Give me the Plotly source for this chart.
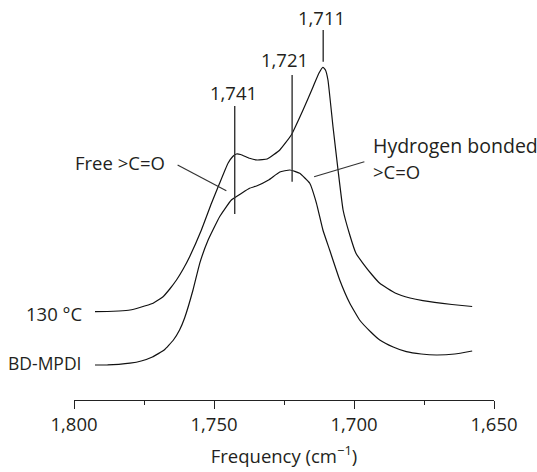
import plotly.graph_objects as go

# Frequencies (cm^-1) and intensities (arbitrary units)
freq_130 = [1792.5, 1788, 1784, 1780, 1776.5, 1772, 1768.2, 1765.8, 1763.4, 1761, 1758.7, 1754.5,
            1750.9, 1748.0, 1745.0, 1743.3, 1742.0, 1740.5, 1737.3, 1734.5, 1731, 1726.5, 1722.4,
            1718.2, 1714.6, 1712.5, 1711.1, 1710.2, 1709.3, 1707.5, 1705.7, 1703.9, 1701.5,
            1699.3, 1696.8, 1693.5, 1690.8, 1685.1, 1680, 1675.4, 1665, 1657.8]
int_130 = [0.883, 0.885, 0.89, 0.90, 0.925, 0.965, 1.033, 1.11, 1.20, 1.31, 1.433, 1.70,
           1.967, 2.167, 2.367, 2.435, 2.46, 2.455, 2.417, 2.40, 2.41, 2.50, 2.65,
           2.90, 3.133, 3.27, 3.327, 3.30, 3.20, 2.733, 2.30, 1.90, 1.65,
           1.467, 1.367, 1.25, 1.167, 1.067, 1.02, 0.993, 0.955, 0.935]

freq_bd = [1792.5, 1788, 1784, 1780, 1776, 1772, 1767.8, 1764.5, 1762.3, 1760.5, 1757.5, 1755.1,
           1752.1, 1748.0, 1743.8, 1740, 1737.3, 1734.8, 1730.5, 1726.5, 1722.9, 1719.4, 1715.8,
           1713.4, 1711.1, 1708.7, 1705.1, 1701.5, 1698.0, 1694, 1690.8, 1686, 1681.3, 1676,
           1670.6, 1664, 1657.8]
int_bd = [0.35, 0.352, 0.357, 0.368, 0.39, 0.43, 0.50, 0.60, 0.70, 0.82, 1.10, 1.367,
          1.60, 1.833, 2.00, 2.07, 2.117, 2.14, 2.20, 2.28, 2.30, 2.267, 2.167,
          1.967, 1.70, 1.50, 1.20, 0.967, 0.80, 0.68, 0.60, 0.53, 0.483, 0.46,
          0.45, 0.46, 0.49]

# Peak markers
peak_labels = ["1,741", "1,721", "1,711"]
peak_x = [1742.6, 1722.1, 1711.0]
peak_y0 = [1.86, 2.183, 3.383]
peak_y1 = [2.94, 3.25, 3.70]
peak_label_x = [1743.1, 1725.0, 1711.6]
peak_label_y = [3.08, 3.41, 3.83]

# Tick labels
tick_vals = [1800, 1750, 1700, 1650]
tick_text = ["1,800", "1,750", "1,700", "1,650"]
minor_vals = [1775, 1725, 1675]

FONT = "Open Sans"
TXT = "#231f20"
fs = 18.5

fig = go.Figure()
fig.add_trace(go.Scatter(x=freq_130, y=int_130, mode="lines", hoverinfo="skip",
                         line=dict(color="#111", width=1.2, shape="spline", smoothing=0.35), name="130 °C"))
fig.add_trace(go.Scatter(x=freq_bd, y=int_bd, mode="lines", hoverinfo="skip",
                         line=dict(color="#111", width=1.2, shape="spline", smoothing=0.35), name="BD-MPDI"))

for x, y0, y1, lab, lx, ly in zip(peak_x, peak_y0, peak_y1, peak_labels, peak_label_x, peak_label_y):
    fig.add_shape(type="line", xref="x", yref="y", x0=x, x1=x, y0=y0, y1=y1, line=dict(color="#333", width=1.4))
    fig.add_annotation(x=lx, y=ly, xref="x", yref="y", text=lab, showarrow=False,
                       xanchor="center", yanchor="middle", font=dict(family=FONT, size=fs, color=TXT))

# Group labels and leader lines
fig.add_annotation(x=1767.0, y=2.38, xref="x", yref="y", text="Free >C=O", showarrow=False, borderpad=0,
                   xanchor="right", yanchor="middle", font=dict(family=FONT, size=fs, color=TXT))
fig.add_shape(type="line", xref="x", yref="y", x0=1763.0, y0=2.35, x1=1745.6, y1=2.093,
              line=dict(color="#333", width=1.2))
fig.add_annotation(x=1693.6, y=2.55, xref="x", yref="y", text="Hydrogen bonded", showarrow=False, borderpad=0,
                   xanchor="left", yanchor="middle", font=dict(family=FONT, size=19.5, color=TXT))
fig.add_annotation(x=1693.6, y=2.29, xref="x", yref="y", text=">C=O", showarrow=False, borderpad=0,
                   xanchor="left", yanchor="middle", font=dict(family=FONT, size=fs, color=TXT))
fig.add_shape(type="line", xref="x", yref="y", x0=1696.3, y0=2.383, x1=1714.25, y1=2.233,
              line=dict(color="#333", width=1.2))

# Series labels
fig.add_annotation(x=1796.7, y=0.87, xref="x", yref="y", text="130 °C", showarrow=False, borderpad=0,
                   xanchor="right", yanchor="middle", font=dict(family=FONT, size=fs, color=TXT))
fig.add_annotation(x=1796.7, y=0.373, xref="x", yref="y", text="BD-MPDI", showarrow=False, borderpad=0,
                   xanchor="right", yanchor="middle", font=dict(family=FONT, size=17.5, color=TXT))

fig.update_layout(
    width=537, height=472,
    margin=dict(l=74, r=43, t=10, b=72),
    paper_bgcolor="white", plot_bgcolor="white",
    showlegend=False,
    hovermode=False,
    font=dict(family=FONT, size=fs, color=TXT),
    xaxis=dict(range=[1800, 1650], tickmode="array", tickvals=tick_vals, ticktext=tick_text,
               showline=True, linecolor="#222", linewidth=1.3, ticks="outside", ticklen=8,
               tickwidth=1.3, tickcolor="#222", showgrid=False, zeroline=False,
               minor=dict(tickvals=minor_vals, ticks="outside", ticklen=4, tickwidth=1.3,
                          tickcolor="#222", showgrid=False),
               tickfont=dict(family=FONT, size=fs, color=TXT),
               title=dict(text="Frequency (cm<sup>−1</sup>)", font=dict(family=FONT, size=fs, color=TXT),
                          standoff=14)),
    yaxis=dict(range=[0, 3.90], visible=False, showgrid=False, zeroline=False),
)

fig.write_html("out.html", config={"displayModeBar": False},
               post_script="document.body.style.margin='0';document.body.style.overflow='hidden';")
